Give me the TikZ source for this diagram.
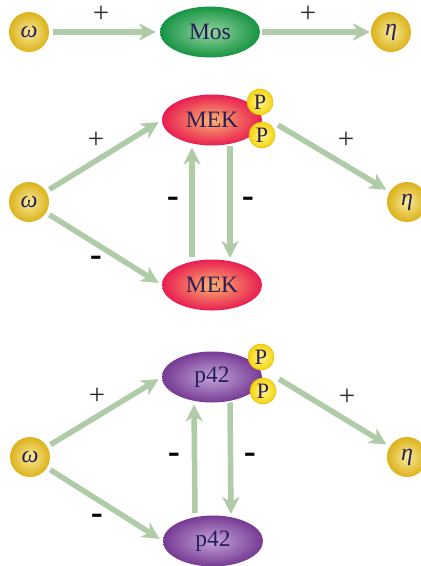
\documentclass[tikz,border=0pt]{standalone}
\usepackage{fontspec}
\usepackage{graphicx}
\setmainfont{Liberation Serif}
\newfontfamily\signfont{Liberation Sans}
\usetikzlibrary{shapes.geometric,arrows.meta,calc}
\definecolor{arrc}{RGB}{176,203,168}
\definecolor{txt}{RGB}{40,30,90}
\definecolor{signc}{RGB}{45,45,45}
\definecolor{wIn}{RGB}{248,234,150}
\definecolor{wOut}{RGB}{220,178,28}
\definecolor{pIn}{RGB}{255,246,140}
\definecolor{pOut}{RGB}{245,212,15}
\definecolor{pEdge}{RGB}{228,190,20}
\definecolor{gIn}{RGB}{150,212,160}
\definecolor{gOut}{RGB}{22,148,68}
\definecolor{rIn}{RGB}{252,180,110}
\definecolor{rOut}{RGB}{232,30,82}
\definecolor{vIn}{RGB}{195,165,215}
\definecolor{vOut}{RGB}{118,58,148}
\begin{document}
\begin{tikzpicture}[x=1pt,y=-1pt,
  arr/.style={draw=arrc, line width=5.5pt, -{Stealth[length=17pt,width=17pt,inset=5pt]}},
  mol/.style={circle, minimum size=40pt, inner sep=0pt, outer sep=0pt, inner color=wIn, outer color=wOut, font=\fontsize{24}{24}\selectfont\itshape, text=txt},
  phos/.style={circle, minimum size=26pt, inner sep=0pt, outer sep=0pt, inner color=pIn, outer color=pOut, draw=pEdge, line width=0.6pt, font=\fontsize{22}{22}\selectfont, text=txt},
  prot/.style={ellipse, minimum width=100pt, minimum height=51pt, inner sep=0pt, outer sep=0pt, font=\fontsize{23.5}{23.5}\selectfont, text=txt},
  green/.style={prot, inner color=gIn, outer color=gOut},
  red/.style={prot, inner color=rIn, outer color=rOut},
  violet/.style={prot, inner color=vIn, outer color=vOut},
  plus/.style={inner sep=0pt, font=\fontsize{29}{29}\selectfont, text=signc},
  minus/.style={inner sep=0pt, font=\signfont\bfseries\fontsize{26}{26}\selectfont, text=black}
]
\useasboundingbox (0,0) rectangle (421,566);
\newcommand{\mns}{\scalebox{1.4}[1]{-}}
% top row
\node[mol] (w1) at (29,32) {ω};
\node[green] (mos) at (210,32) {Mos};
\node[mol] (h1) at (391,32) {η};
\draw[arr, shorten <=4pt, shorten >=4pt] (w1) -- (mos);
\draw[arr, shorten <=2pt, shorten >=1pt] (mos) -- (h1);
\node[plus] (s1) at (101,14) {+};
\node[plus] (s2) at (308,14) {+};
% middle
\node[mol] (w2) at (29,202) {ω};
\node[red] (mek1) at (212,120) {MEK};
\node[red] (mek2) at (212,285) {MEK};
\node[phos] (pa1) at (260,102) {P};
\node[phos] (pb1) at (262,135) {P};
\node[mol] (h2) at (407,202) {η};
\draw[arr, shorten <=4pt, shorten >=4pt] (w2) -- (mek1.west);
\draw[arr, shorten <=4pt, shorten >=4pt] (w2) -- (mek2.west);
\draw[arr, shorten <=2.5pt, shorten >=2pt] ([xshift=-20pt]mek2.north) -- ([xshift=-20pt]mek1.south);
\draw[arr, shorten <=0pt, shorten >=1.5pt] ([xshift=18pt]mek1.south) -- ([xshift=18pt]mek2.north);
\coordinate (o1) at ($(mek1.east)+(16,5)$);
\draw[arr, shorten >=4pt] (o1) -- (h2);
\node[plus] (s3) at (96,140) {+};
\node[minus] (s4) at (96,260) {\mns};
\node[minus] (s5) at (173,201) {\mns};
\node[minus] (s6) at (248,201) {\mns};
\node[plus] (s7) at (346,140) {+};
% bottom
\node[mol] (w3) at (30,457) {ω};
\node[violet] (p1) at (212,377) {p42};
\node[violet] (p2) at (213,541) {p42};
\node[phos] (pa2) at (261,357) {P};
\node[phos] (pb2) at (263,391) {P};
\node[mol] (h3) at (407,457) {η};
\draw[arr, shorten <=4pt, shorten >=4pt] (w3) -- (p1.west);
\draw[arr, shorten <=4pt, shorten >=4pt] (w3) -- (p2.west);
\draw[arr, shorten <=2.5pt, shorten >=2pt] ([xshift=-18pt]p2.north) -- ([xshift=-18pt]p1.south);
\draw[arr, shorten <=0pt, shorten >=1.5pt] ([xshift=18pt]p1.south) -- ([xshift=18pt]p2.north);
\coordinate (o2) at ($(p1.east)+(17,2)$);
\draw[arr, shorten >=4pt] (o2) -- (h3);
\node[plus] (t3) at (97,396) {+};
\node[minus] (t4) at (97,518) {\mns};
\node[minus] (t5) at (174,457) {\mns};
\node[minus] (t6) at (250,457) {\mns};
\node[plus] (t7) at (347,397) {+};
\end{tikzpicture}
\end{document}
